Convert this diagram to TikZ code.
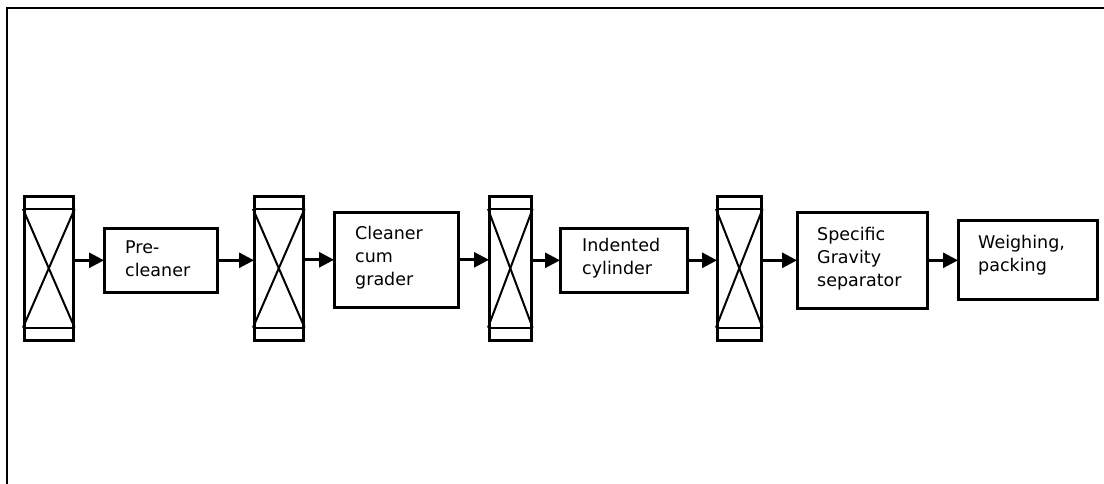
\documentclass[tikz,border=0pt]{standalone}
\usepackage{fontspec}
\setmainfont{DejaVu Sans}
\usetikzlibrary{arrows.meta}
\begin{document}
\begin{tikzpicture}[x=1pt,y=-1pt,
  binbox/.style={draw, line width=2.6pt, rectangle, inner sep=0pt, minimum height=144pt, anchor=north west},
  stagebox/.style={draw, line width=2.6pt, rectangle, inner sep=0pt, anchor=north west},
  lbl/.style={anchor=west, inner sep=0pt, align=left, font=\fontsize{17.5}{23}\selectfont},
  arr/.style={line width=2.8pt, -{Triangle[length=15pt,width=15pt]}, shorten >=-1pt},
  binline/.style={line width=2pt}]
\useasboundingbox (0,0) rectangle (1104,484);
\draw[line width=2.8pt] (7,500) -- (7,8) -- (1120,8);

% bins
\node[binbox, minimum width=49pt] (b1) at (23,195) {};
\node[binbox, minimum width=49pt] (b2) at (253,195) {};
\node[binbox, minimum width=42pt] (b3) at (488,195) {};
\node[binbox, minimum width=44pt] (b4) at (716,195) {};
\foreach \b in {b1,b2,b3,b4}{
  \draw[binline] ([yshift=-14pt]\b.north west) -- ([yshift=-14pt]\b.north east);
  \draw[binline] ([yshift=14pt]\b.south west) -- ([yshift=14pt]\b.south east);
  \draw[binline] ([yshift=-14pt]\b.north west) -- ([yshift=14pt]\b.south east);
  \draw[binline] ([yshift=-14pt]\b.north east) -- ([yshift=14pt]\b.south west);
}

% stages
\node[stagebox, minimum width=113pt, minimum height=64pt] (pc) at (103,227) {};
\node[stagebox, minimum width=124pt, minimum height=95pt] (cg) at (333,211) {};
\node[stagebox, minimum width=127pt, minimum height=64pt] (ic) at (559,227) {};
\node[stagebox, minimum width=130pt, minimum height=96pt] (sg) at (796,211) {};
\node[stagebox, minimum width=139pt, minimum height=79pt] (wp) at (957,219) {};

\node[lbl] (pct) at ([xshift=22pt,yshift=2pt]pc.west) {Pre-\\cleaner};
\node[lbl] (cgt) at ([xshift=22pt,yshift=2pt]cg.west) {Cleaner\\cum\\grader};
\node[lbl] (ict) at ([xshift=23pt,yshift=2pt]ic.west) {Indented\\cylinder};
\node[lbl] (sgt) at ([xshift=21pt,yshift=2pt]sg.west) {Specific\\Gravity\\separator};
\node[lbl] (wpt) at ([xshift=21pt,yshift=5pt]wp.west) {Weighing,\\packing};

% arrows
\draw[arr] (b1.east |- pc.west) -- (pc.west);
\draw[arr] (pc.east) -- (b2.west |- pc.east);
\draw[arr] (b2.east |- cg.west) -- (cg.west);
\draw[arr] (cg.east) -- (b3.west |- cg.east);
\draw[arr] (b3.east |- ic.west) -- (ic.west);
\draw[arr] (ic.east) -- (b4.west |- ic.east);
\draw[arr] (b4.east |- sg.west) -- (sg.west);
\draw[arr] (sg.east) -- (wp.west |- sg.east);
\end{tikzpicture}
\end{document}
